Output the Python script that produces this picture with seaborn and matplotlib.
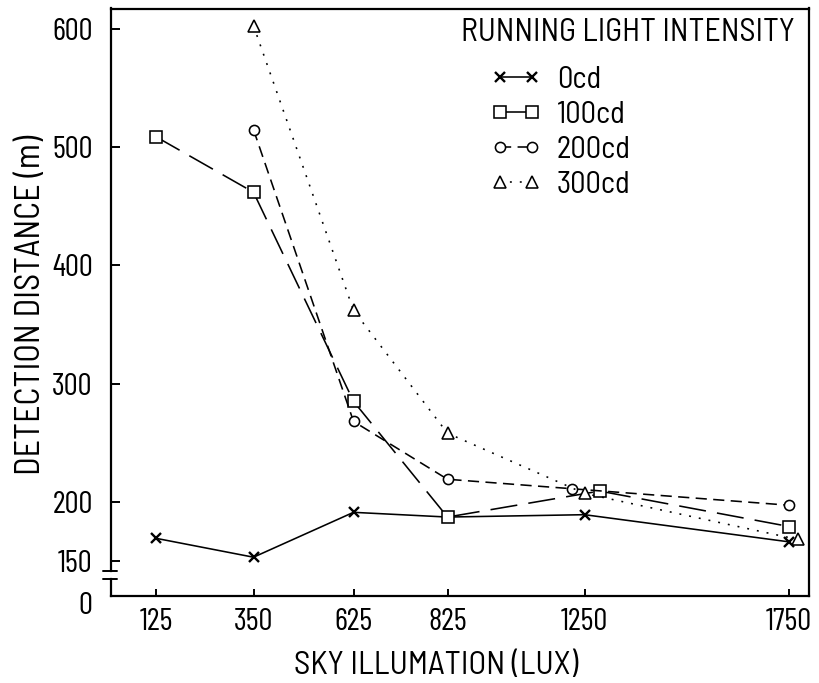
import numpy as np
import pandas as pd
import matplotlib
matplotlib.use("Agg")
import matplotlib.pyplot as plt
from matplotlib.transforms import ScaledTranslation
import seaborn as sns

# ---------------- data ----------------
series_names = ["0cd", "100cd", "200cd", "300cd"]
lux_0cd = [125, 350, 625, 825, 1250, 1750]
dist_0cd = [169, 153, 191, 187, 189, 166]
lux_100cd = [125, 350, 625, 825, 1287, 1750]
dist_100cd = [509, 462, 285, 187, 209, 179]
lux_200cd = [350, 625, 825, 1210, 1750]
dist_200cd = [515, 268, 219, 211, 197]
lux_300cd = [350, 625, 825, 1250, 1772]
dist_300cd = [603, 362, 258, 207, 168]

x_ticks = [125, 350, 625, 825, 1250, 1750]
y_ticks = [150, 200, 300, 400, 500, 600]
legend_title = "RUNNING LIGHT INTENSITY"
x_label = "SKY ILLUMATION (LUX)"
y_label = "DETECTION DISTANCE (m)"

# hand-drawn (non-proportional) x scale: lux anchors -> axis position
scale_lux = [125, 350, 625, 825, 1250, 1750]
scale_pos = [156, 253.5, 353.5, 447.5, 584.5, 789]

df = pd.concat([
    pd.DataFrame({"lux": lux_0cd, "dist": dist_0cd, "series": "0cd"}),
    pd.DataFrame({"lux": lux_100cd, "dist": dist_100cd, "series": "100cd"}),
    pd.DataFrame({"lux": lux_200cd, "dist": dist_200cd, "series": "200cd"}),
    pd.DataFrame({"lux": lux_300cd, "dist": dist_300cd, "series": "300cd"}),
], ignore_index=True)

# ---------------- style ----------------
sns.set_theme(style="white")
TEXT_FONT = ["Barlow Semi Condensed", "DejaVu Sans"]
TICK_FONT = ["Barlow Condensed", "DejaVu Sans"]
plt.rcParams["font.family"] = TEXT_FONT
plt.rcParams["font.weight"] = 400

L = np.array(scale_lux, float)
P = np.array(scale_pos, float)
sl = (P[1] - P[0]) / (L[1] - L[0])
sr = (P[-1] - P[-2]) / (L[-1] - L[-2])


def fwd(x):
    x = np.asarray(x, float)
    y = np.interp(x, L, P)
    y = np.where(x < L[0], P[0] + (x - L[0]) * sl, y)
    y = np.where(x > L[-1], P[-1] + (x - L[-1]) * sr, y)
    return y


def inv(p):
    p = np.asarray(p, float)
    x = np.interp(p, P, L)
    x = np.where(p < P[0], L[0] + (p - P[0]) / sl, x)
    x = np.where(p > P[-1], L[-1] + (p - P[-1]) / sr, x)
    return x


W, H = 819, 683
fig = plt.figure(figsize=(W / 100, H / 100), dpi=100)
ax_l, ax_r, ax_t, ax_b = 110.7, 809, 8.5, 595.7
ax = fig.add_axes([ax_l / W, 1 - ax_b / H, (ax_r - ax_l) / W, (ax_b - ax_t) / H])
ax.set_xscale("function", functions=(fwd, inv))

markers = {"0cd": "D", "100cd": "s", "200cd": "o", "300cd": "^"}
dashes = {"0cd": "", "100cd": (17, 7), "200cd": (7, 4), "300cd": (1.2, 5)}

sns.lineplot(data=df, x="lux", y="dist", style="series", style_order=series_names,
             markers=markers, dashes=dashes, color="black", lw=1.15,
             ms=8, mfc="white", mec="black", mew=1.15, legend=False,
             estimator=None, sort=False, ax=ax)

lines = ax.get_lines()[:4]
for ln, nm in zip(lines, series_names):
    if nm == "0cd":
        ln.set_marker("x")
        ln.set_markersize(7)
        ln.set_markeredgewidth(1.7)
    if nm == "200cd":
        ln.set_markersize(7.3)
    if nm == "300cd":
        ln.set_markersize(8.8)

# axes limits
px_per_unit = (501.7 - 29.3) / 400.0
y_top = 600 + (29.3 - ax_t) / px_per_unit
y_bot = 600 - (ax_b - 29.3) / px_per_unit
ax.set_ylim(y_bot, y_top)
ax.set_xlim(float(inv(ax_l)), float(inv(ax_r)))

ax.set_xticks(x_ticks)
ax.set_xticklabels([str(v) for v in x_ticks])
ax.set_yticks([y_bot] + y_ticks)
ax.set_yticklabels(["0"] + [str(v) for v in y_ticks])
ax.xaxis.set_minor_locator(matplotlib.ticker.NullLocator())

ax.tick_params(axis="both", which="major", direction="in", color="black",
               labelcolor="black", labelsize=22.5, width=1.4)
ax.tick_params(axis="y", length=6.5, pad=13, left=True, right=False)
ax.tick_params(axis="x", length=5.3, pad=9, bottom=True, top=False)
for lab in ax.get_xticklabels() + ax.get_yticklabels():
    lab.set_fontfamily(TICK_FONT)
ax.get_yticklabels()[0].set_transform(
    ax.get_yticklabels()[0].get_transform() + ScaledTranslation(0, -0.07, fig.dpi_scale_trans))

for s in ["top", "right", "bottom"]:
    ax.spines[s].set_color("black")
    ax.spines[s].set_linewidth(1.6)
ax.spines["left"].set_visible(False)

# broken left axis
b_hi = 600 - (570.7 - 29.3) / px_per_unit
b_lo = 600 - (579.0 - 29.3) / px_per_unit
yt = ax.get_yaxis_transform()
ax.plot([0, 0], [y_bot, b_lo], transform=yt, color="black", lw=1.6, clip_on=False,
        solid_capstyle="projecting")
ax.plot([0, 0], [b_hi, y_top], transform=yt, color="black", lw=1.6, clip_on=False,
        solid_capstyle="projecting")
for yy in (b_lo, b_hi):
    ax.plot([-0.0115, 0.0086], [yy, yy], transform=yt, color="black", lw=1.4, clip_on=False)

ax.set_xlabel(x_label, fontsize=23.5, color="black")
ax.set_ylabel(y_label, fontsize=24.5, color="black")
ax.xaxis.set_label_coords((436 - ax_l) / (ax_r - ax_l), -(651 - ax_b) / (ax_b - ax_t))
ax.yaxis.set_label_coords((47 - ax_l) / (ax_r - ax_l), (ax_b - 305) / (ax_b - ax_t))

# legend
fig.text(460.7 / W, 1 - 33 / H, legend_title, fontsize=23, color="black",
         ha="left", va="center")
leg = fig.legend(lines, series_names, loc="upper left",
                 bbox_to_anchor=(491 / W, 1 - 66 / H), frameon=False,
                 fontsize=22, numpoints=2, handlelength=1.65, handletextpad=0.5,
                 labelspacing=0.23, borderpad=0, borderaxespad=0)
for t in leg.get_texts():
    t.set_color("black")

fig.savefig("out.png", dpi=100)
